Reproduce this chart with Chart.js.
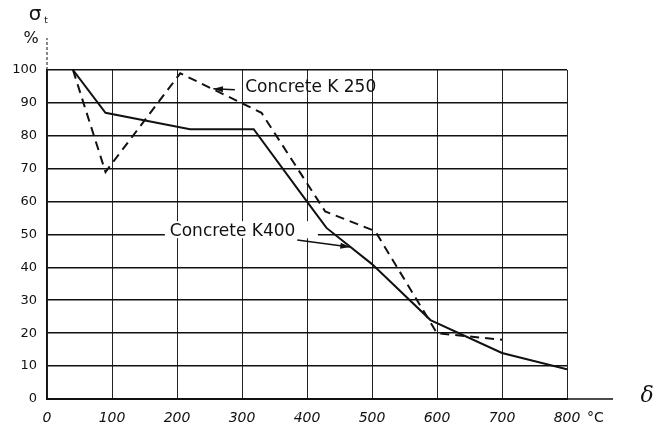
<!DOCTYPE html>
<html><head><meta charset="utf-8">
<script src="https://cdn.jsdelivr.net/npm/chart.js@4/dist/chart.umd.min.js"></script>
<style>html,body{margin:0;padding:0;background:#fff}#wrap{width:655px;height:436px;position:relative}</style>
</head><body><div id="wrap"><canvas id="c" width="655" height="436"></canvas></div>
<script>
// ---- data ----
const xTickValues = [0, 100, 200, 300, 400, 500, 600, 700, 800];
const yTickValues = [0, 10, 20, 30, 40, 50, 60, 70, 80, 90, 100];
const tempK400 = [40, 90, 220, 318, 400, 430, 500, 590, 700, 800];
const strengthK400 = [100, 87, 82, 82, 60, 52, 41, 24, 14, 9];
const tempK250 = [40, 90, 205, 330, 428, 505, 600, 700];
const strengthK250 = [100, 69, 99, 87, 57, 51, 20, 18];
const labelK400 = 'Concrete K400';
const labelK250 = 'Concrete K 250';
const xUnit = '°C';
const yTitle = 'σ';
const yTitleSub = 't';
const yUnit = '%';
const xTitle = 'δ';

const ink = '#111';
const toPts = (xs, ys) => xs.map((x, i) => ({x: x, y: ys[i]}));

const annot = {
  id: 'annot',
  afterDraw(chart) {
    const ctx = chart.ctx, xs = chart.scales.x, ys = chart.scales.y;
    const px = v => xs.getPixelForValue(v), py = v => ys.getPixelForValue(v);
    const ca = chart.chartArea;
    ctx.save();
    ctx.strokeStyle = ink; ctx.fillStyle = ink;
    // extended axes
    ctx.lineWidth = 1.3;
    ctx.beginPath(); ctx.moveTo(ca.right, ca.bottom); ctx.lineTo(ca.right + 46, ca.bottom); ctx.stroke();
    ctx.lineWidth = 1;
    ctx.setLineDash([3, 2]);
    ctx.beginPath(); ctx.moveTo(ca.left, ca.top); ctx.lineTo(ca.left, ca.top - 32); ctx.stroke();
    ctx.setLineDash([]);
    // y title
    ctx.textAlign = 'center'; ctx.textBaseline = 'middle';
    ctx.font = '20px "DejaVu Sans"';
    ctx.fillText(yTitle, ca.left - 12, ca.top - 55);
    ctx.font = '9px "DejaVu Sans"';
    ctx.fillText(yTitleSub, ca.left - 1, ca.top - 49);
    ctx.font = '16px "DejaVu Sans"';
    ctx.fillText(yUnit, ca.left - 16, ca.top - 31);
    // x title and unit
    ctx.font = 'italic 22px "DejaVu Serif"';
    ctx.fillText(xTitle, ca.right + 80, ca.bottom - 3);
    ctx.font = '14px "DejaVu Sans"';
    ctx.textAlign = 'left';
    ctx.fillText(xUnit, ca.right + 20, ca.bottom + 19);
    // K400 label with white background over grid line
    ctx.font = '17px "DejaVu Sans"';
    ctx.textAlign = 'left';
    const x4 = px(189), y4 = py(51);
    ctx.fillStyle = '#fff';
    ctx.fillRect(x4 - 5, y4 - 10, 153, 17);
    ctx.fillStyle = ink;
    ctx.fillText(labelK400, x4, y4);
    // K400 arrow
    drawArrow(ctx, px(385), py(48.3), px(466), py(46.2));
    // K250 label
    ctx.fillText(labelK250, px(305), py(94.8));
    drawArrow(ctx, px(289), py(94), px(256), py(94.3));
    ctx.restore();
  }
};
function drawArrow(ctx, x1, y1, x2, y2) {
  ctx.lineWidth = 1.5;
  ctx.beginPath(); ctx.moveTo(x1, y1); ctx.lineTo(x2, y2); ctx.stroke();
  const a = Math.atan2(y2 - y1, x2 - x1), L = 10, w = 0.3;
  ctx.beginPath();
  ctx.moveTo(x2, y2);
  ctx.lineTo(x2 - L * Math.cos(a - w), y2 - L * Math.sin(a - w));
  ctx.lineTo(x2 - L * Math.cos(a + w), y2 - L * Math.sin(a + w));
  ctx.closePath(); ctx.fill();
}

new Chart(document.getElementById('c'), {
  type: 'scatter',
  data: {
    datasets: [
      { label: labelK400, data: toPts(tempK400, strengthK400), showLine: true,
        borderColor: ink, borderWidth: 2, pointRadius: 0, fill: false, tension: 0 },
      { label: labelK250, data: toPts(tempK250, strengthK250), showLine: true,
        borderColor: ink, borderWidth: 2, borderDash: [9, 6], pointRadius: 0, fill: false, tension: 0 }
    ]
  },
  options: {
    responsive: false, animation: false, devicePixelRatio: 1,
    layout: { padding: { top: 70, right: 88, left: 0, bottom: 0 } },
    plugins: { legend: { display: false }, tooltip: { enabled: false } },
    scales: {
      x: {
        type: 'linear', min: 0, max: 800,
        afterBuildTicks: s => { s.ticks = xTickValues.map(v => ({value: v})); },
        afterFit: s => { s.height = 37; },
        grid: { color: '#222', lineWidth: 1, drawTicks: false },
        border: { color: ink, width: 2 },
        ticks: { color: ink, padding: 11, font: { family: 'DejaVu Sans', size: 14, style: 'italic' }, maxRotation: 0 }
      },
      y: {
        type: 'linear', min: 0, max: 100,
        afterBuildTicks: s => { s.ticks = yTickValues.map(v => ({value: v})); },
        afterFit: s => { s.width = 47; },
        grid: { color: ink, lineWidth: 1.6, drawTicks: false },
        border: { color: ink, width: 1.3 },
        ticks: { color: ink, padding: 10, font: { family: 'DejaVu Sans', size: 13 } }
      }
    }
  },
  plugins: [annot]
});
</script>
</body></html>
